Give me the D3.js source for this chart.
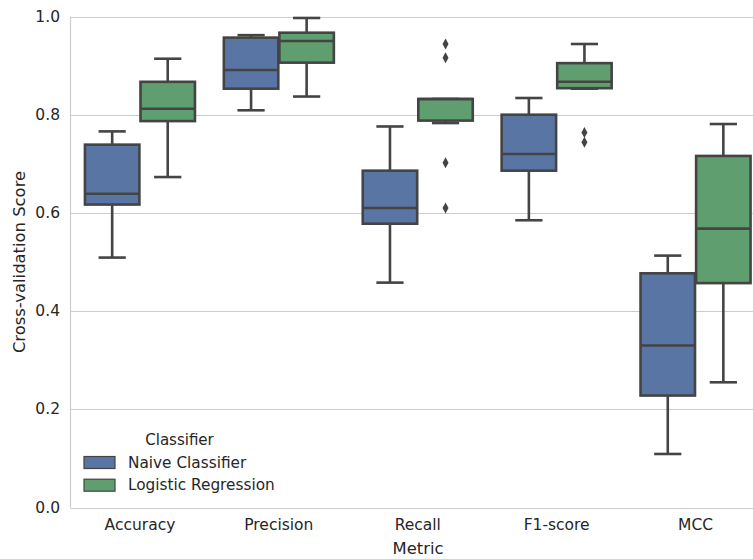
<!DOCTYPE html>
<html>
<head>
<meta charset="utf-8">
<script src="https://d3js.org/d3.v7.min.js"></script>
<style>
  html, body { margin: 0; padding: 0; background: #fff; }
  svg { display: block; font-family: "DejaVu Sans", sans-serif; }
</style>
</head>
<body>
<div id="chart"></div>
<script>
// categories and series
const categories = ['Accuracy', 'Precision', 'Recall', 'F1-score', 'MCC'];
const classifiers = ['Naive Classifier', 'Logistic Regression'];

// [low whisker, Q1, median, Q3, high whisker] per metric
const naiveStats = [
  [0.509, 0.617, 0.639, 0.739, 0.766],
  [0.809, 0.853, 0.891, 0.957, 0.962],
  [0.458, 0.578, 0.610, 0.686, 0.776],
  [0.585, 0.686, 0.720, 0.800, 0.834],
  [0.109, 0.228, 0.330, 0.477, 0.513]
];
const logregStats = [
  [0.673, 0.787, 0.812, 0.867, 0.914],
  [0.837, 0.906, 0.950, 0.967, 0.997],
  [0.783, 0.788, 0.832, 0.832, 0.832],
  [0.853, 0.854, 0.867, 0.905, 0.944],
  [0.255, 0.457, 0.568, 0.716, 0.781]
];
const naiveOutliers = [[], [], [], [], []];
const logregOutliers = [[], [], [0.944, 0.916, 0.702, 0.610], [0.764, 0.744], []];

const yTicks = [0.0, 0.2, 0.4, 0.6, 0.8, 1.0];

(function() {
  'use strict';

  const W = 753, H = 559;
  const colors = ['#5975a4', '#5f9e6e'];
  const lineColor = '#444444';
  const gridColor = '#cccccc';
  const textColor = '#262626';

  const svg = d3.select('#chart').append('svg')
    .attr('width', W).attr('height', H);

  // plot area runs past the right edge, as in the picture
  const x = d3.scaleBand().domain(categories).range([70.5, 765]).padding(0);
  const y = d3.scaleLinear().domain([0, 1]).range([507.5, 16.5]);

  const hueOffset = d3.scaleBand().domain(classifiers)
    .range([-0.4 * x.bandwidth(), 0.4 * x.bandwidth()]);
  const boxW = hueOffset.bandwidth() * 0.98;

  // gridlines
  svg.append('g').selectAll('line').data(yTicks).enter().append('line')
    .attr('x1', 70.5).attr('x2', W)
    .attr('y1', d => Math.round(y(d)) + 0.5).attr('y2', d => Math.round(y(d)) + 0.5)
    .attr('stroke', gridColor).attr('stroke-width', 1.2);

  // left spine
  svg.append('line')
    .attr('x1', 70.5).attr('x2', 70.5)
    .attr('y1', y(1)).attr('y2', y(0))
    .attr('stroke', gridColor).attr('stroke-width', 1.2);

  // y tick labels
  svg.append('g').selectAll('text').data(yTicks).enter().append('text')
    .attr('x', 60).attr('y', d => y(d))
    .attr('text-anchor', 'end').attr('dominant-baseline', 'central')
    .style('font-size', '15.5px').style('fill', textColor)
    .text(d => d.toFixed(1));

  // x tick labels
  svg.append('g').selectAll('text').data(categories).enter().append('text')
    .attr('x', d => x(d) + x.bandwidth() / 2).attr('y', 525)
    .attr('text-anchor', 'middle').attr('dominant-baseline', 'central')
    .style('font-size', '15.5px').style('fill', textColor)
    .text(d => d);

  // axis labels
  svg.append('text')
    .attr('x', 418).attr('y', 548)
    .attr('text-anchor', 'middle').attr('dominant-baseline', 'central')
    .style('font-size', '16.4px').style('fill', textColor)
    .text('Metric');

  svg.append('text')
    .attr('transform', 'translate(19,262) rotate(-90)')
    .attr('text-anchor', 'middle').attr('dominant-baseline', 'central')
    .style('font-size', '16.4px').style('fill', textColor)
    .text('Cross-validation Score');

  // box data
  const boxes = [];
  [naiveStats, logregStats].forEach((series, si) => {
    const outs = si === 0 ? naiveOutliers : logregOutliers;
    series.forEach((s, ci) => {
      boxes.push({
        cat: categories[ci], hue: classifiers[si], color: colors[si],
        lo: s[0], q1: s[1], med: s[2], q3: s[3], hi: s[4], out: outs[ci]
      });
    });
  });

  const cx = d => x(d.cat) + x.bandwidth() / 2 + hueOffset(d.hue) + hueOffset.bandwidth() / 2;
  const lw = 2.6;

  const g = svg.append('g').selectAll('g').data(boxes).enter().append('g');

  // whiskers
  g.append('line')
    .attr('x1', cx).attr('x2', cx)
    .attr('y1', d => y(d.q3)).attr('y2', d => y(d.hi))
    .attr('stroke', lineColor).attr('stroke-width', lw);
  g.append('line')
    .attr('x1', cx).attr('x2', cx)
    .attr('y1', d => y(d.q1)).attr('y2', d => y(d.lo))
    .attr('stroke', lineColor).attr('stroke-width', lw);

  // caps
  g.append('line')
    .attr('x1', d => cx(d) - boxW / 4).attr('x2', d => cx(d) + boxW / 4)
    .attr('y1', d => y(d.hi)).attr('y2', d => y(d.hi))
    .attr('stroke', lineColor).attr('stroke-width', lw);
  g.append('line')
    .attr('x1', d => cx(d) - boxW / 4).attr('x2', d => cx(d) + boxW / 4)
    .attr('y1', d => y(d.lo)).attr('y2', d => y(d.lo))
    .attr('stroke', lineColor).attr('stroke-width', lw);

  // box
  g.append('rect')
    .attr('x', d => cx(d) - boxW / 2).attr('width', boxW)
    .attr('y', d => y(d.q3)).attr('height', d => y(d.q1) - y(d.q3))
    .attr('fill', d => d.color)
    .attr('stroke', lineColor).attr('stroke-width', lw);

  // median
  g.append('line')
    .attr('x1', d => cx(d) - boxW / 2).attr('x2', d => cx(d) + boxW / 2)
    .attr('y1', d => y(d.med)).attr('y2', d => y(d.med))
    .attr('stroke', lineColor).attr('stroke-width', lw);

  // outliers (thin diamonds)
  const diamond = 'M0,-5.5L3,0L0,5.5L-3,0Z';
  g.each(function(d) {
    d3.select(this).selectAll('path.out').data(d.out).enter().append('path')
      .attr('class', 'out')
      .attr('d', diamond)
      .attr('transform', v => `translate(${cx(d)},${y(v)})`)
      .attr('fill', lineColor);
  });

  // legend
  const legend = svg.append('g');
  legend.append('text')
    .attr('x', 179.5).attr('y', 440)
    .attr('text-anchor', 'middle').attr('dominant-baseline', 'central')
    .style('font-size', '15px').style('fill', textColor)
    .text('Classifier');

  const items = legend.selectAll('g').data(classifiers).enter().append('g')
    .attr('transform', (d, i) => `translate(0,${462.5 + i * 22.7})`);
  items.append('rect')
    .attr('x', 84).attr('y', -6).attr('width', 31).attr('height', 12)
    .attr('fill', (d, i) => colors[i])
    .attr('stroke', lineColor).attr('stroke-width', 1.2);
  items.append('text')
    .attr('x', 128).attr('y', 0)
    .attr('dominant-baseline', 'central')
    .style('font-size', '15.3px').style('fill', textColor)
    .text(d => d);
})();
</script>
</body>
</html>
